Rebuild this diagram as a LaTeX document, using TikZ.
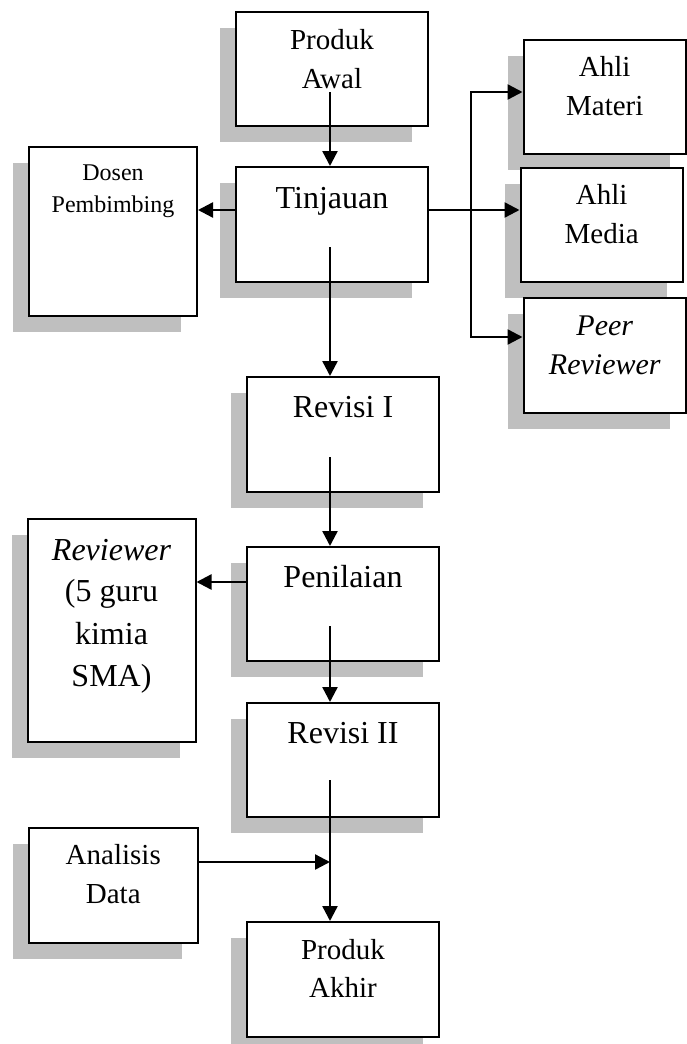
\documentclass[tikz,border=0pt]{standalone}
\usepackage{fontspec}
\setmainfont{Liberation Serif}
\usetikzlibrary{arrows.meta}
\definecolor{shadowgray}{RGB}{191,191,191}
\tikzset{
  boxshape/.style={draw, line width=2pt, fill=white, inner sep=0pt},
  shadowshape/.style={fill=shadowgray, draw=none, inner sep=0pt},
  arr/.style={line width=2.4pt, -{Triangle[length=15pt,width=15pt]}},
  thinline/.style={line width=2.2pt, line cap=rect},
  txt/.style={anchor=base, inner sep=0pt},
  big/.style={font=\fontsize{32}{38}\selectfont},
  mid/.style={font=\fontsize{29}{38}\selectfont},
  small/.style={font=\fontsize{24}{30}\selectfont},
}
% name, center x, center y, width, height
\newcommand\shadowedbox[5]{%
  \node[shadowshape, minimum width=#4pt, minimum height=#5pt] at (#2-16,#3+16) {};
  \node[boxshape, minimum width=#4pt, minimum height=#5pt] (#1) at (#2,#3) {};}
\begin{document}
\begin{tikzpicture}[x=1pt,y=-1pt]
\useasboundingbox (0,0) rectangle (687,1044);

% boxes
\shadowedbox{pa}{332}{69}{192}{114}
\shadowedbox{tin}{332}{224.5}{192}{115}
\shadowedbox{dos}{113}{231.5}{168}{169}
\shadowedbox{am}{604.75}{97}{162.5}{114}
\shadowedbox{amd}{601.75}{225}{162.5}{114}
\shadowedbox{peer}{604.75}{355.5}{162.5}{115}
\shadowedbox{rev1}{343}{434.5}{192}{115}
\shadowedbox{pen}{343}{604}{192}{114}
\shadowedbox{revr}{111.5}{630.5}{168}{223}
\shadowedbox{rev2}{343}{760}{192}{114}
\shadowedbox{ana}{113.25}{885.5}{168.5}{115}
\shadowedbox{pak}{343}{979.5}{192}{115}

% texts
\node[txt,mid] at (pa.center |- 0,49.5) {Produk};
\node[txt,mid] at (pa.center |- 0,88) {Awal};
\node[txt,big] at (tin.center |- 0,208.3) {Tinjauan};
\node[txt,small] at (dos.center |- 0,180) {Dosen};
\node[txt,small] at (dos.center |- 0,212) {Pembimbing};
\node[txt,mid] at (am.center |- 0,76.7) {Ahli};
\node[txt,mid] at (am.center |- 0,115) {Materi};
\node[txt,mid] at (amd.center |- 0,204.3) {Ahli};
\node[txt,mid] at (amd.center |- 0,243.3) {Media};
\node[txt,font=\fontsize{30}{38}\selectfont\itshape] at (peer.center |- 0,335.7) {Peer};
\node[txt,font=\fontsize{30}{38}\selectfont\itshape] at (peer.center |- 0,374.3) {Reviewer};
\node[txt,big] at (rev1.center |- 0,417.3) {Revisi I};
\node[txt,big] at (pen.center |- 0,587.3) {Penilaian};
\node[txt,font=\fontsize{32}{38}\selectfont\itshape] at (revr.center |- 0,560) {Reviewer};
\node[txt,big] at (revr.center |- 0,601) {(5 guru};
\node[txt,big] at (revr.center |- 0,644.3) {kimia};
\node[txt,big] at (revr.center |- 0,686.7) {SMA)};
\node[txt,big] at (rev2.center |- 0,743.3) {Revisi II};
\node[txt,mid] at (ana.center |- 0,864.3) {Analisis};
\node[txt,mid] at (ana.center |- 0,903.3) {Data};
\node[txt,mid] at (pak.center |- 0,959.3) {Produk};
\node[txt,mid] at (pak.center |- 0,997.3) {Akhir};

% connector start points
\coordinate (paS) at (330,92);
\coordinate (tinS) at (330,247);
\coordinate (rev1S) at (330,457);
\coordinate (penS) at (330,626);
\coordinate (rev2S) at (330,780);
\coordinate (tinL) at ([yshift=14.5pt]tin.west);
\coordinate (tinR) at ([yshift=14.5pt]tin.east);
\coordinate (brT) at (471,92);
\coordinate (brB) at (471,337);
\coordinate (penL) at ([yshift=22pt]pen.west);
\coordinate (anaR) at ([yshift=23.5pt]ana.east);

% connectors
\draw[arr] (paS) -- (paS |- tin.north);
\draw[arr] (tinL) -- (tinL -| dos.east);
\draw[arr] (tinR) -- (tinR -| amd.west);
\draw[thinline] (brT) -- (brB);
\draw[arr] (brT) -- (brT -| am.west);
\draw[arr] (brB) -- (brB -| peer.west);
\draw[arr] (tinS) -- (tinS |- rev1.north);
\draw[arr] (rev1S) -- (rev1S |- pen.north);
\draw[arr] (penL) -- (penL -| revr.east);
\draw[arr] (penS) -- (penS |- rev2.north);
\draw[arr] (rev2S) -- (rev2S |- pak.north);
\draw[arr] (anaR) -- (anaR -| rev2S);
\end{tikzpicture}
\end{document}
